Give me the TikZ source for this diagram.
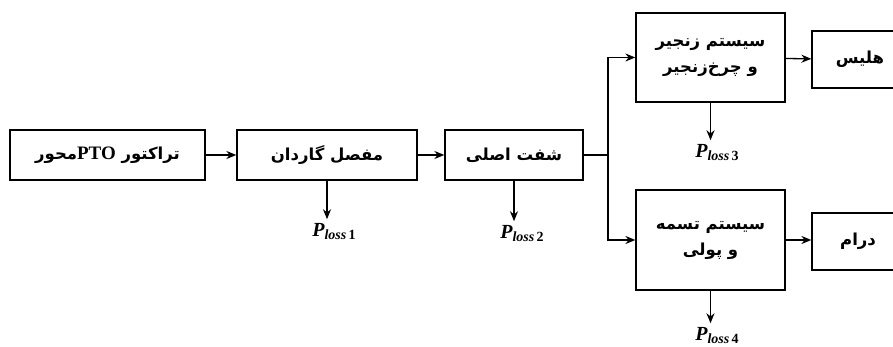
\documentclass[tikz,border=0pt]{standalone}
\usepackage{fontspec}
\usetikzlibrary{arrows.meta}
\TeXXeTstate=1
\newfontfamily\fa[Script=Arabic]{DejaVu Sans}
\newfontfamily\lat{Liberation Serif}
\newcommand{\ploss}[1]{P{\fontsize{14}{14}\selectfont\raisebox{-3pt}{loss\,\upshape #1}}}
\begin{document}
\begin{tikzpicture}[x=1pt,y=-1pt, line width=1.3pt,
  box/.style={draw, font=\fa\bfseries\fontsize{16.5}{26}\selectfont, align=center, inner sep=0pt},
  arr/.style={-{Stealth[length=10pt,width=8pt]}},
  loss/.style={font=\lat\bfseries\itshape\fontsize{20}{20}\selectfont, inner sep=0pt}]
\useasboundingbox (0,0) rectangle (893,347);
\clip (0,0) rectangle (893,347);
\node[box, minimum width=195pt, minimum height=50pt] (b1) at (107.5,155)
  {\beginR تراکتور \beginL{\lat\bfseries\fontsize{19}{20}\selectfont PTO}\endL{}محور\endR};
\node[box, minimum width=180pt, minimum height=50pt] (b2) at (327,155) {\beginR مفصل گاردان\endR};
\node[box, minimum width=138pt, minimum height=50pt] (b3) at (514,155) {\beginR شفت اصلی\endR};
\node[box, minimum width=149pt, minimum height=89pt] (b4) at (710.5,57.5)
  {\beginR سیستم زنجیر\endR\\\beginR و چرخ^^^^200cزنجیر\endR};
\node[box, minimum width=96pt, minimum height=57pt] (b5) at (860,59.5) {\beginR هلیس\endR};
\node[box, minimum width=149pt, minimum height=100pt] (b6) at (710.5,240)
  {\beginR سیستم تسمه\endR\\\beginR و پولی\endR};
\node[box, minimum width=92pt, minimum height=57pt] (b7) at (858,241.5) {\beginR درام\endR};
\coordinate (sp) at (608,155);
\node[loss] (l1) at (334,232) {\ploss{1}};
\node[loss] (l2) at (522,234) {\ploss{2}};
\node[loss] (l3) at (717,153) {\ploss{3}};
\node[loss] (l4) at (717,336) {\ploss{4}};
\draw[arr] (b1) -- (b2);
\draw[arr] (b2) -- (b3);
\draw (b3.east) -- (sp);
\draw[arr] (sp) |- (b4.west);
\draw[arr] (sp) |- (b6.west);
\draw[arr] (b4) -- (b5);
\draw[arr] (b6.east) -- (b6.east -| b7.west);
\draw[arr] (b2.south) -- ([yshift=4pt]b2.south |- l1.north);
\draw[arr] (b3.south) -- ([yshift=4pt]b3.south |- l2.north);
\draw[arr] (b4.south) -- ([yshift=4pt]b4.south |- l3.north);
\draw[arr] (b6.south) -- ([yshift=4pt]b6.south |- l4.north);
\end{tikzpicture}
\end{document}
